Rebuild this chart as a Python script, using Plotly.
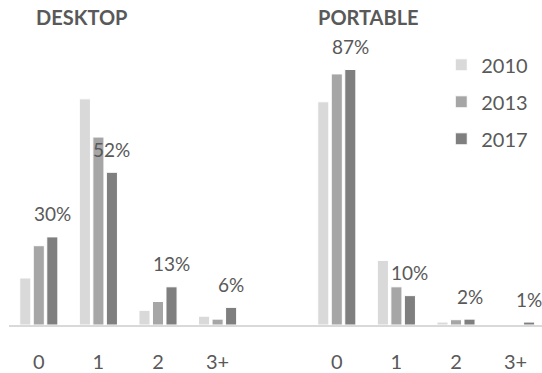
import plotly.graph_objects as go

# Share of households by number of devices owned, per survey year
categories = ["0", "1", "2", "3+"]
groups = ["DESKTOP", "PORTABLE"]
years = ["2010", "2013", "2017"]
desktop_2010 = [16, 77, 5, 3]
desktop_2013 = [27, 64, 8, 2]
desktop_2017 = [30, 52, 13, 6]
portable_2010 = [76, 22, 1, 0]
portable_2013 = [85.5, 13, 1.8, 0]
portable_2017 = [87, 10, 2, 1]

series = {
    "2010": desktop_2010 + portable_2010,
    "2013": desktop_2013 + portable_2013,
    "2017": desktop_2017 + portable_2017,
}
colors = {"2010": "#d9d9d9", "2013": "#a6a6a6", "2017": "#7f7f7f"}

# x positions: the two groups side by side with one empty slot between them
n = len(categories)
xpos = list(range(n)) + [n + 1 + i for i in range(n)]
ticktext = categories + categories

FONT = "Lato, 'Open Sans', sans-serif"
TXT = "#595959"
BARGAP = 0.32

fig = go.Figure()
for i, yr in enumerate(years):
    fig.add_trace(go.Bar(
        x=xpos, y=series[yr], name=yr,
        marker=dict(color=colors[yr], line=dict(color="white", width=1)),
        legendgroup=yr, hoverinfo="skip",
    ))

# value labels above the latest-year bars
slot = (1 - BARGAP) / len(years)
offset = slot * (len(years) - 1 - (len(years) - 1) / 2)
for x, v in zip(xpos, series["2017"]):
    fig.add_annotation(
        x=x + offset, y=v, text=f"{v:g}%", showarrow=False,
        xref="x", yref="y", yanchor="middle", yshift=23,
        font=dict(family=FONT, size=19, color=TXT),
    )

# group titles
for gx, g in zip([74, 366], groups):
    fig.add_annotation(
        x=gx / 542, y=1 - 20 / 373, xref="paper", yref="paper",
        text=f"<b>{g}</b>", showarrow=False, xanchor="center", yanchor="middle",
        font=dict(family=FONT, size=20, color=TXT),
    )

fig.update_layout(
    width=542, height=373,
    margin=dict(l=9, r=0, t=0, b=41),
    paper_bgcolor="white", plot_bgcolor="white",
    barmode="group", bargap=BARGAP, bargroupgap=0.18,
    font=dict(family=FONT, color=TXT),
    showlegend=True,
    legend=dict(
        x=0.811, y=1 - 52 / 373, xanchor="left", yanchor="top",
        font=dict(family=FONT, size=20, color=TXT),
        tracegroupgap=8, itemwidth=30, bgcolor="rgba(0,0,0,0)",
    ),
    xaxis=dict(
        range=[-0.5, -0.5 + 533 / 59.6],
        tickmode="array", tickvals=xpos, ticktext=ticktext,
        showline=True, linecolor="#d9d9d9", linewidth=2,
        ticks="outside", ticklen=18, tickcolor="rgba(0,0,0,0)",
        tickfont=dict(family=FONT, size=20, color=TXT),
        showgrid=False, zeroline=False, fixedrange=True,
    ),
    yaxis=dict(
        range=[0, 332 / 3], visible=False, showgrid=False,
        zeroline=False, fixedrange=True,
    ),
)

fig.write_html("out.html")
